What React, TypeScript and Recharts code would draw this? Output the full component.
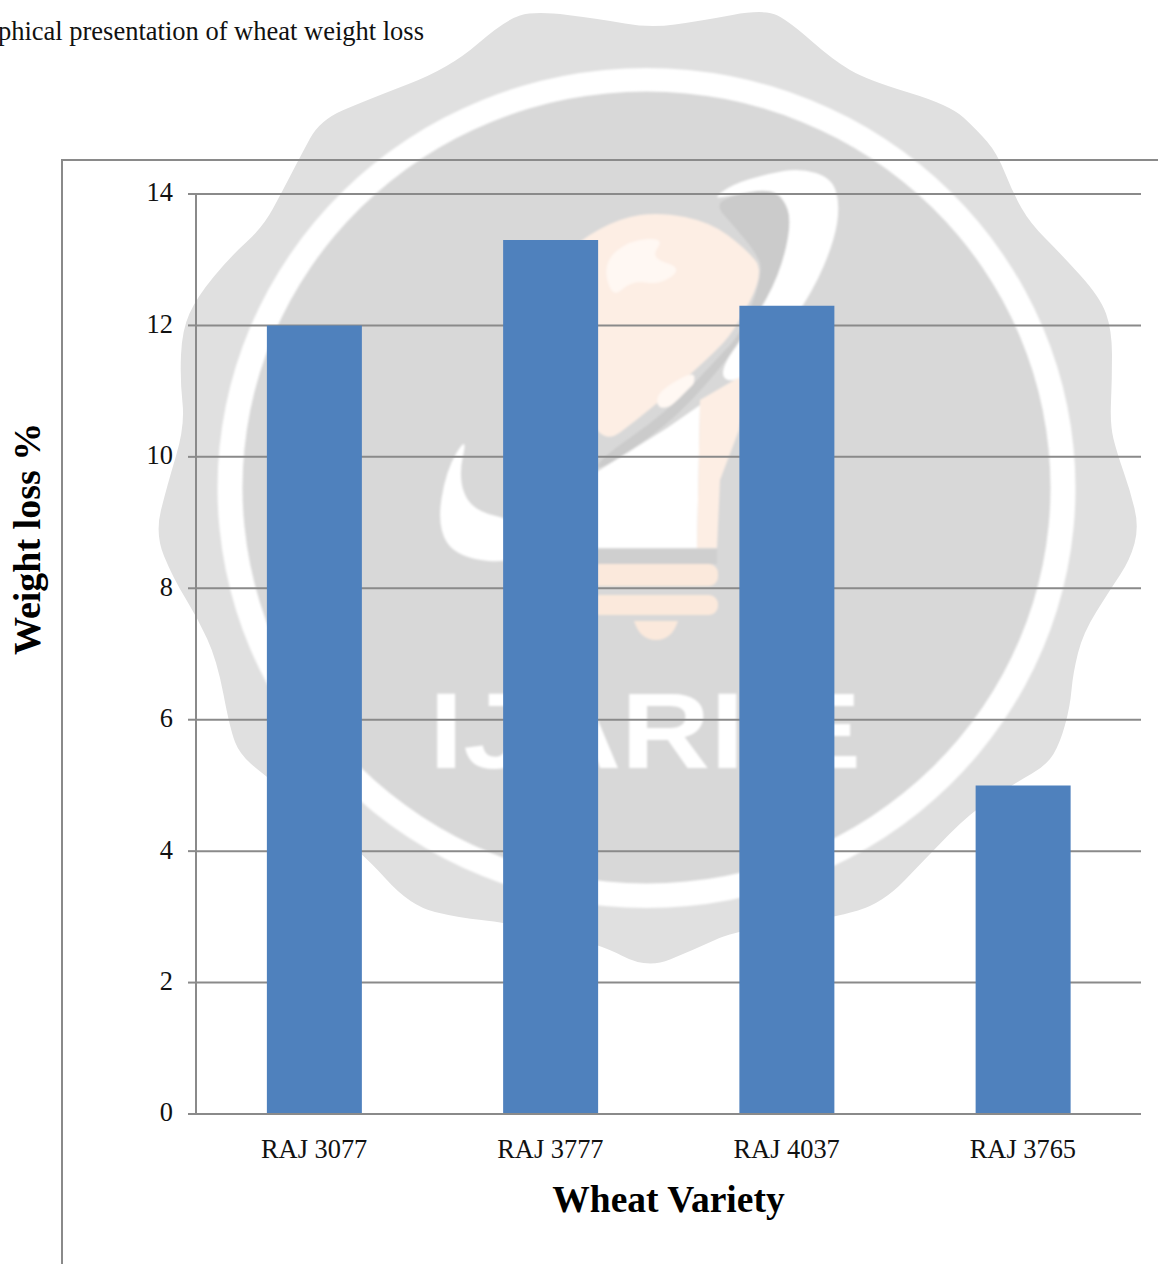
import { Bar, BarChart, CartesianGrid, XAxis, YAxis } from "recharts";

const varieties = ["RAJ 3077", "RAJ 3777", "RAJ 4037", "RAJ 3765"];
const weightLoss = [12, 13.3, 12.3, 5];
const yTicks = [0, 2, 4, 6, 8, 10, 12, 14];

const data = varieties.map((variety, i) => ({ variety, loss: weightLoss[i] }));

const SERIF = '"Liberation Serif", "Times New Roman", serif';
const AXIS_GREY = "#8a8a8a";

// closed curve through the given points, rounded with midpoint quadratics
function smooth(points: number[][]) {
  const mid = (a: number[], b: number[]) => [(a[0] + b[0]) / 2, (a[1] + b[1]) / 2];
  const n = points.length;
  const start = mid(points[n - 1], points[0]);
  let d = `M${start[0]} ${start[1]}`;
  points.forEach((p, i) => {
    const m = mid(p, points[(i + 1) % n]);
    d += ` Q${p[0]} ${p[1]} ${m[0]} ${m[1]}`;
  });
  return d + " Z";
}

const sealOutline = [
  [450, 68], [505, 20], [535, 11], [600, 19], [650, 28], [700, 21], [765, 9], [790, 22],
  [833, 60], [867, 80], [950, 105], [977, 130], [997, 153], [1013, 193], [1030, 223],
  [1060, 253], [1100, 297], [1112, 330], [1112, 380], [1110, 425], [1117, 453], [1130, 490],
  [1139, 527], [1130, 560], [1110, 590], [1083, 633], [1073, 673], [1070, 707], [1060, 743],
  [1047, 765], [1017, 782], [970, 813], [927, 857], [883, 903], [833, 918], [737, 930],
  [693, 950], [647, 969], [598, 943], [503, 922], [460, 918], [410, 906], [361, 851],
  [267, 777], [240, 755], [230, 729], [217, 660], [197, 617], [173, 578], [155, 534],
  [167, 486], [185, 426], [180, 380], [182, 330], [197, 297], [230, 257], [263, 227],
  [283, 190], [300, 157], [320, 120], [367, 100],
];

const globe = [
  [560, 262], [580, 240], [620, 218], [660, 212], [710, 222], [745, 248], [765, 272],
  [735, 330], [712, 355], [650, 410], [590, 455],
];
const orbitShadow = [
  [733, 195], [767, 189], [783, 197], [792, 221], [780, 274], [753, 323], [717, 373],
  [667, 426], [598, 472], [598, 460], [667, 412], [717, 359], [743, 331], [763, 272],
  [757, 254], [733, 225], [715, 205],
];
const orbitSwoosh = [
  [712, 199], [733, 184], [767, 174], [800, 168], [832, 178], [840, 205], [834, 242],
  [813, 291], [777, 344], [735, 385], [717, 373], [753, 323], [780, 274], [792, 221],
  [783, 197], [767, 189], [733, 195],
];
const leftSwoosh = [
  [468, 434], [446, 470], [437, 527], [457, 558], [520, 564], [520, 521], [472, 511],
  [458, 478],
];
const landUpper = [
  [603, 262], [630, 240], [665, 238], [650, 258], [683, 268], [660, 285], [632, 280], [612, 299],
];
const landLower = [[655, 395], [680, 378], [697, 372], [690, 395], [660, 412]];

function Seal() {
  return (
    <svg width={1158} height={1264} style={{ position: "absolute", left: 0, top: 0 }}>
      <defs>
        <filter id="soft" x="-5%" y="-5%" width="110%" height="110%">
          <feGaussianBlur stdDeviation="1.2" />
        </filter>
      </defs>
      <path d={smooth(sealOutline)} fill="#e0e0e0" />
      <ellipse cx={646.5} cy={488} rx={429} ry={420} fill="#ffffff" filter="url(#soft)" />
      <ellipse cx={646.5} cy={487.5} rx={404} ry={396} fill="#d8d8d8" filter="url(#soft)" />
      <g filter="url(#soft)">
        <path d={smooth(globe)} fill="#fdeee4" />
        <polygon points="590,476 667,428 700,405 697,548 590,548" fill="#ffffff" />
        <polygon points="700,400 748,372 739,430 720,480 717,548 697,548" fill="#fdeee4" />
        <path d={smooth(landUpper)} fill="#fff8f3" />
        <path d={smooth(landLower)} fill="#fff8f3" />
        <path d={smooth(orbitShadow)} fill="#cbcbcb" />
        <path d={smooth(orbitSwoosh)} fill="#ffffff" />
        <path d={smooth(leftSwoosh)} fill="#ffffff" />
        <rect x={590} y={549} width={127} height={15} fill="#cfcfcf" />
        <rect x={590} y={564} width={128} height={22} rx={9} fill="#fbe9dc" />
        <rect x={590} y={595} width={128} height={20} rx={9} fill="#fbe9dc" />
        <path d="M634 621 H678 Q672 640 656 640 Q640 640 634 621 Z" fill="#fbe9dc" />
        <text
          x={429}
          y={768}
          fontFamily='"Liberation Sans", Arial, sans-serif'
          fontWeight={700}
          fontSize={107}
          textLength={432}
          lengthAdjust="spacingAndGlyphs"
          fill="#ffffff"
        >
          IJARIIE
        </text>
      </g>
    </svg>
  );
}

export default function App() {
  return (
    <div
      style={{
        position: "absolute",
        left: 0,
        top: 0,
        width: 1158,
        height: 1264,
        overflow: "hidden",
        background: "#ffffff",
        fontFamily: SERIF,
      }}
    >
      <Seal />
      <div
        style={{
          position: "absolute",
          right: 1158 - 424,
          top: 17,
          whiteSpace: "nowrap",
          fontSize: 26.5,
          lineHeight: "28px",
          color: "#111111",
        }}
      >
        Graphical presentation of wheat weight loss
      </div>
      {/* chart frame runs off the page on the right and bottom */}
      <div
        style={{
          position: "absolute",
          left: 61,
          top: 159,
          width: 1200,
          height: 1200,
          borderLeft: `2px solid ${AXIS_GREY}`,
          borderTop: `2px solid ${AXIS_GREY}`,
        }}
      />
      <div style={{ position: "absolute", left: 0, top: 0 }}>
        <BarChart
          width={1158}
          height={1264}
          data={data}
          margin={{ top: 194, right: 17, bottom: 0, left: 0 }}
          barCategoryGap="30%"
        >
          <CartesianGrid horizontal vertical={false} stroke={AXIS_GREY} strokeWidth={2} />
          <XAxis
            dataKey="variety"
            height={150}
            tickLine={false}
            axisLine={{ stroke: AXIS_GREY, strokeWidth: 2 }}
            tickMargin={19}
            tick={{ fill: "#111111", fontSize: 26.4, fontFamily: SERIF }}
            label={{
              value: "Wheat Variety",
              position: "insideBottom",
              offset: 52,
              fill: "#000000",
              fontSize: 37.5,
              fontWeight: 700,
              fontFamily: SERIF,
            }}
          />
          <YAxis
            domain={[0, 14]}
            ticks={yTicks}
            interval={0}
            width={196}
            tickSize={8}
            tickMargin={15}
            tickLine={{ stroke: AXIS_GREY, strokeWidth: 2 }}
            axisLine={{ stroke: AXIS_GREY, strokeWidth: 2 }}
            tick={{ fill: "#111111", fontSize: 26.4, fontFamily: SERIF, dy: -2 }}
            label={{
              value: "Weight loss %",
              angle: -90,
              position: "insideLeft",
              offset: 0,
              dx: 27,
              dy: 1,
              fill: "#000000",
              fontSize: 38,
              fontWeight: 700,
              fontFamily: SERIF,
            }}
          />
          <Bar dataKey="loss" fill="#4f81bd" isAnimationActive={false} />
        </BarChart>
      </div>
    </div>
  );
}
